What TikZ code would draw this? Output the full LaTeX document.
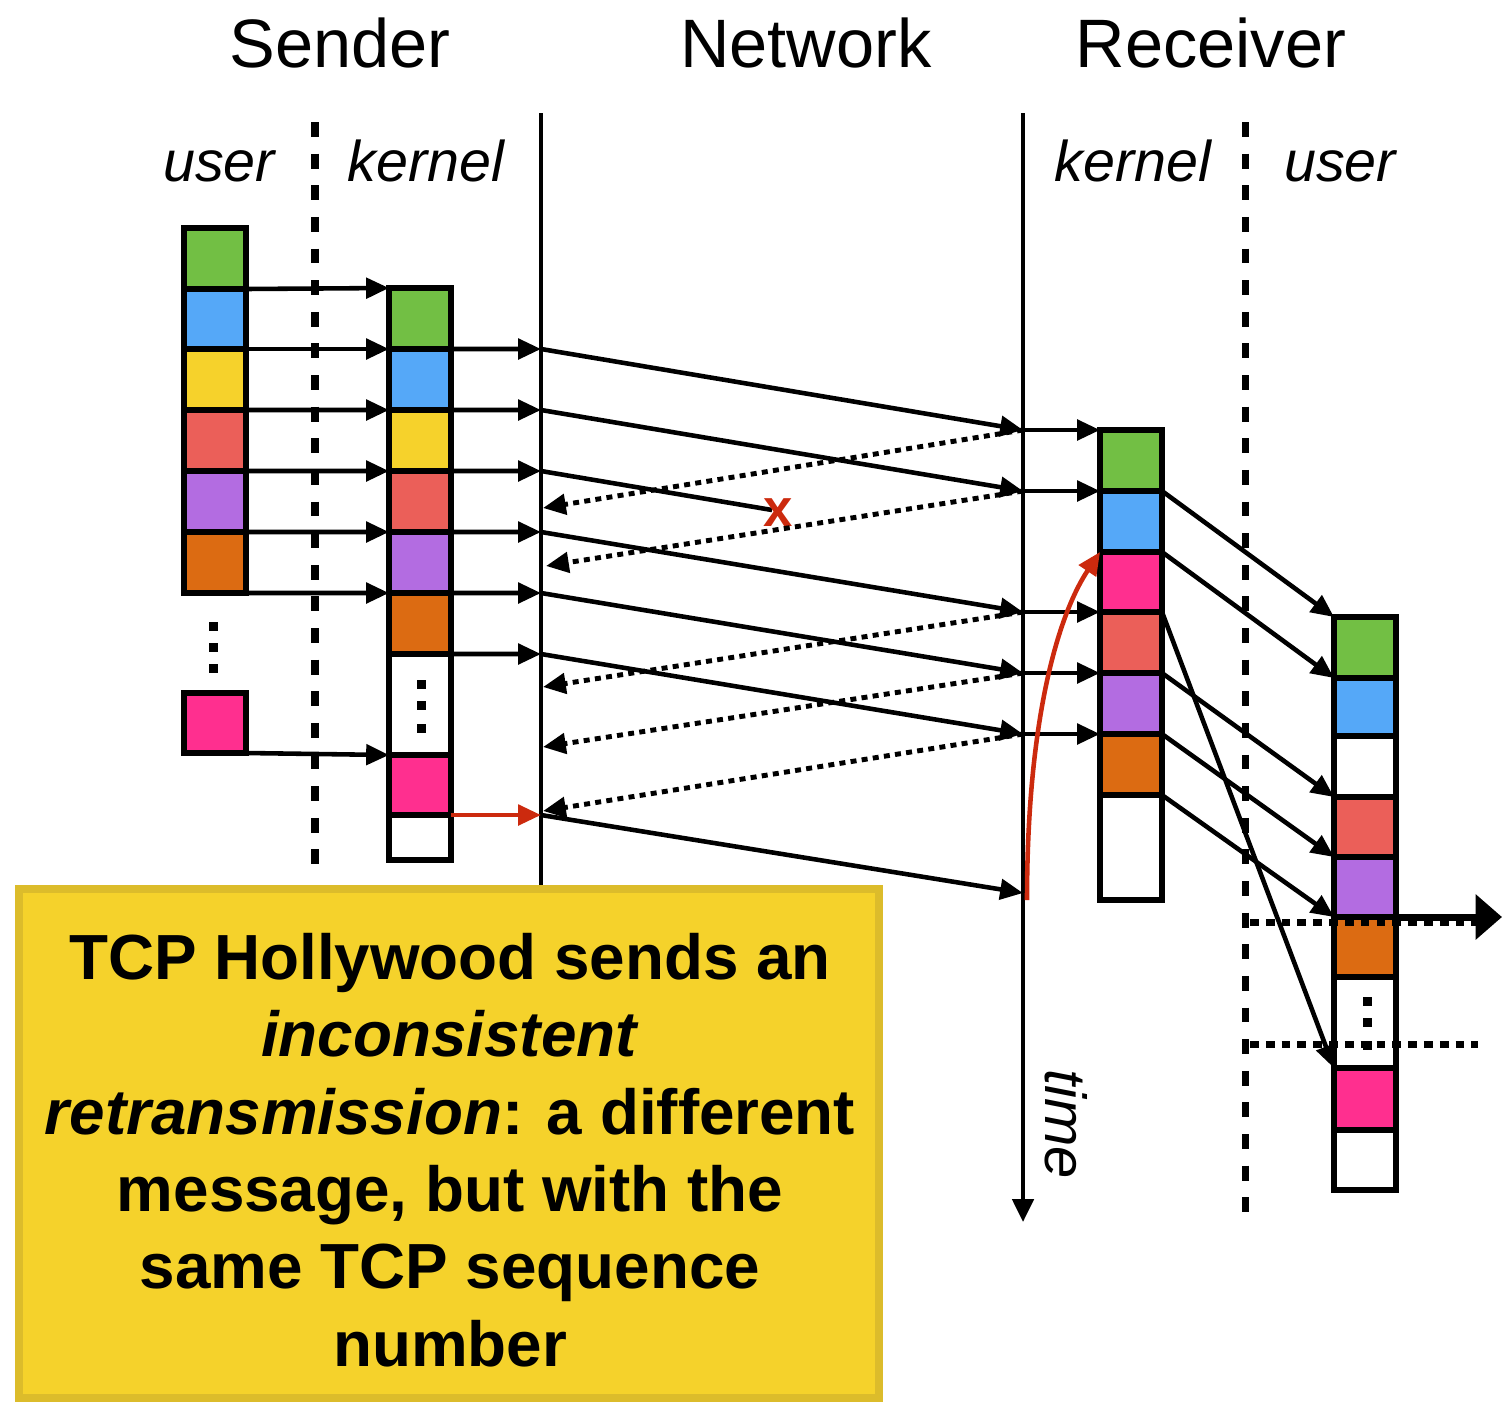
\documentclass[tikz,border=0pt]{standalone}
\usepackage{fontspec}
\setmainfont{Liberation Sans}
\usetikzlibrary{arrows.meta}
\definecolor{cgreen}{HTML}{72BF44}
\definecolor{cblue}{HTML}{55A8F8}
\definecolor{cyellow}{HTML}{F6D22B}
\definecolor{cred}{HTML}{EB5F59}
\definecolor{cpurple}{HTML}{B36CE1}
\definecolor{corange}{HTML}{DC6B12}
\definecolor{cpink}{HTML}{FF2F8F}
\definecolor{carrow}{HTML}{CC2A0E}
\definecolor{boxfill}{HTML}{F5D22B}
\definecolor{boxline}{HTML}{DCBC2B}
\newcommand\blk[5]{\node[blk,fill=#5,minimum height={(#4-#3)*0.02cm}] (#1) at (#2,#3) {};}
\begin{document}
\begin{tikzpicture}[x=0.02cm,y=-0.02cm,
  blk/.style={draw, line width=3pt, minimum width=1.24cm, inner sep=0pt, outer sep=0pt, anchor=north west},
  arr/.style={line width=2.6pt, -{Triangle[length=13pt,width=11.5pt]}},
  ack/.style={arr, line width=2.8pt, dash pattern=on 3.4pt off 3pt},
  netline/.style={line width=2.4pt},
  sep/.style={line width=4pt, dash pattern=on 8.5pt off 9.5pt},
  hdot/.style={line width=4pt, dash pattern=on 5pt off 4pt},
  title/.style={font=\fontsize{39}{39}\selectfont, anchor=base},
  layer/.style={font=\fontsize{32.7}{33}\selectfont\itshape, anchor=base},
  dotsq/.style={fill=black}
]
\useasboundingbox (0,0) rectangle (1503,1403);

% titles
\node[title] (tS) at (340,67) {Sender};
\node[title] (tN) at (806,67) {Network};
\node[title] (tR) at (1211,67) {Receiver};
\node[layer] (lu1) at (219,181) {user};
\node[layer] (lk1) at (426,181) {kernel};
\node[layer] (lk2) at (1133,181) {kernel};
\node[layer] (lu2) at (1340,181) {user};

% separators
\draw[sep] (315,122) -- (315,875);
\draw[sep] (1245,122) -- (1245,1222);

% network lines
\coordinate (sTop) at (541,113);
\coordinate (sBot) at (541,885);
\coordinate (rTop) at (1023,113);
\coordinate (rBot) at (1023,1222);
\draw[netline] (sTop) -- (sBot);
\draw[netline, -{Triangle[length=13pt,width=12pt]}] (rTop) -- (rBot);
\node[font=\fontsize{33}{33}\selectfont\itshape, rotate=-90] (time) at (1066,1124) {time};

% sender user blocks
\blk{su1}{184}{228}{289}{cgreen}
\blk{su2}{184}{289}{349}{cblue}
\blk{su3}{184}{349}{410}{cyellow}
\blk{su4}{184}{410}{471}{cred}
\blk{su5}{184}{471}{532}{cpurple}
\blk{su6}{184}{532}{593}{corange}
\blk{su7}{184}{693}{753}{cpink}
\foreach \yy in {622,643,664} \fill[dotsq] (209,\yy) rectangle (218,\yy+9);

% sender kernel blocks
\blk{sk1}{389}{288}{349}{cgreen}
\blk{sk2}{389}{349}{410}{cblue}
\blk{sk3}{389}{410}{471}{cyellow}
\blk{sk4}{389}{471}{532}{cred}
\blk{sk5}{389}{532}{593}{cpurple}
\blk{sk6}{389}{593}{654}{corange}
\blk{sk7}{389}{654}{755}{white}
\blk{sk8}{389}{755}{815}{cpink}
\blk{sk9}{389}{815}{860}{white}
\foreach \yy in {680,701,724} \fill[dotsq] (417,\yy) rectangle (426,\yy+9);

% receiver kernel blocks
\blk{rk1}{1100}{430}{491}{cgreen}
\blk{rk2}{1100}{491}{552}{cblue}
\blk{rk3}{1100}{552}{612}{cpink}
\blk{rk4}{1100}{612}{673}{cred}
\blk{rk5}{1100}{673}{734}{cpurple}
\blk{rk6}{1100}{734}{795}{corange}
\blk{rk7}{1100}{795}{900}{white}

% receiver user blocks
\blk{ru1}{1334}{617}{678}{cgreen}
\blk{ru2}{1334}{678}{736}{cblue}
\blk{ru3}{1334}{736}{797}{white}
\blk{ru4}{1334}{797}{857}{cred}
\blk{ru5}{1334}{857}{917}{cpurple}
\blk{ru6}{1334}{917}{977}{corange}
\blk{ru7}{1334}{977}{1068}{white}
\blk{ru8}{1334}{1068}{1130}{cpink}
\blk{ru9}{1334}{1130}{1190}{white}
\foreach \yy in {997,1018,1041} \fill[dotsq] (1363,\yy) rectangle (1372,\yy+9);

% user -> kernel (sender)
\draw[arr] (su1.south east) -- (sk1.north west);
\draw[arr] (su2.south east) -- (sk2.north west);
\draw[arr] (su3.south east) -- (sk3.north west);
\draw[arr] (su4.south east) -- (sk4.north west);
\draw[arr] (su5.south east) -- (sk5.north west);
\draw[arr] (su6.south east) -- (sk6.north west);
\draw[arr] (su7.south east) -- (sk8.north west);

% network coordinates
\coordinate (s1) at (541,349);
\coordinate (s2) at (541,410);
\coordinate (s3) at (541,471);
\coordinate (s4) at (541,532);
\coordinate (s5) at (541,593);
\coordinate (s6) at (541,654);
\coordinate (s7) at (541,815);
\coordinate (r1) at (1023,430);
\coordinate (r2) at (1023,491);
\coordinate (r4) at (1023,612);
\coordinate (r5) at (1023,673);
\coordinate (r6) at (1023,734);
\coordinate (r7) at (1023,893);
\coordinate (lost) at (772,510);
\coordinate (a1) at (543,508);
\coordinate (a2) at (546,566);
\coordinate (a4) at (543,687);
\coordinate (a5) at (543,747);
\coordinate (a6) at (543,811);

% kernel -> network (sender)
\draw[arr] (sk1.south east) -- (s1);
\draw[arr] (sk2.south east) -- (s2);
\draw[arr] (sk3.south east) -- (s3);
\draw[arr] (sk4.south east) -- (s4);
\draw[arr] (sk5.south east) -- (s5);
\draw[arr] (sk6.south east) -- (s6);
\draw[arr, carrow] (sk8.south east) -- (s7);

% data packets
\draw[arr] (s1) -- (r1);
\draw[arr] (s2) -- (r2);
\draw[line width=2.6pt] (s3) -- (lost);
\draw[arr] (s4) -- (r4);
\draw[arr] (s5) -- (r5);
\draw[arr] (s6) -- (r6);
\draw[arr] (s7) -- (r7);
\node[text=carrow, font=\fontsize{30}{30}\selectfont\bfseries, inner sep=0pt] (xmark) at (778,513) {x};

% acks
\draw[ack] (r1) -- (a1);
\draw[ack] (r2) -- (a2);
\draw[ack] (r4) -- (a4);
\draw[ack] (r5) -- (a5);
\draw[ack] (r6) -- (a6);

% network -> receiver kernel
\draw[arr] (r1) -- (rk1.north west);
\draw[arr] (r2) -- (rk2.north west);
\draw[arr] (r4) -- (rk4.north west);
\draw[arr] (r5) -- (rk5.north west);
\draw[arr] (r6) -- (rk6.north west);

% red curve
\coordinate (cstart) at (1027,900);
\draw[line width=2.6pt, carrow, -{Triangle[length=13pt,width=11.5pt]}] (cstart) .. controls (1027,720) and (1058,615) .. (rk3.north west);

% receiver kernel -> user
\draw[arr] (rk1.south east) -- (ru1.north west);
\draw[arr] (rk2.south east) -- (ru2.north west);
\draw[arr] (rk3.south east) -- (ru8.north west);
\draw[arr] (rk4.south east) -- (ru4.north west);
\draw[arr] (rk5.south east) -- (ru5.north west);
\draw[arr] (rk6.south east) -- (ru6.north west);

% delivery window
\draw[hdot] (1250,922) -- (1478,922);
\draw[hdot] (1250,1044) -- (1478,1044);
\coordinate (dout) at (1502,917);
\draw[line width=4pt, -{Triangle[length=15pt,width=25pt]}] (ru5.south east) -- (dout);

% box
\node[draw=boxline, fill=boxfill, line width=4.5pt, minimum width={860*0.02cm}, minimum height={509*0.02cm}, inner sep=0pt] (box) at (449,1143.5) {};
\node[align=center, font=\fontsize{36.3}{44}\selectfont\bfseries] (boxtext) at (450,1150) {TCP Hollywood sends an\\ \textit{inconsistent}\\ \textit{retransmission}: a different\\ message, but with the\\ same TCP sequence\\ number};
\end{tikzpicture}
\end{document}
